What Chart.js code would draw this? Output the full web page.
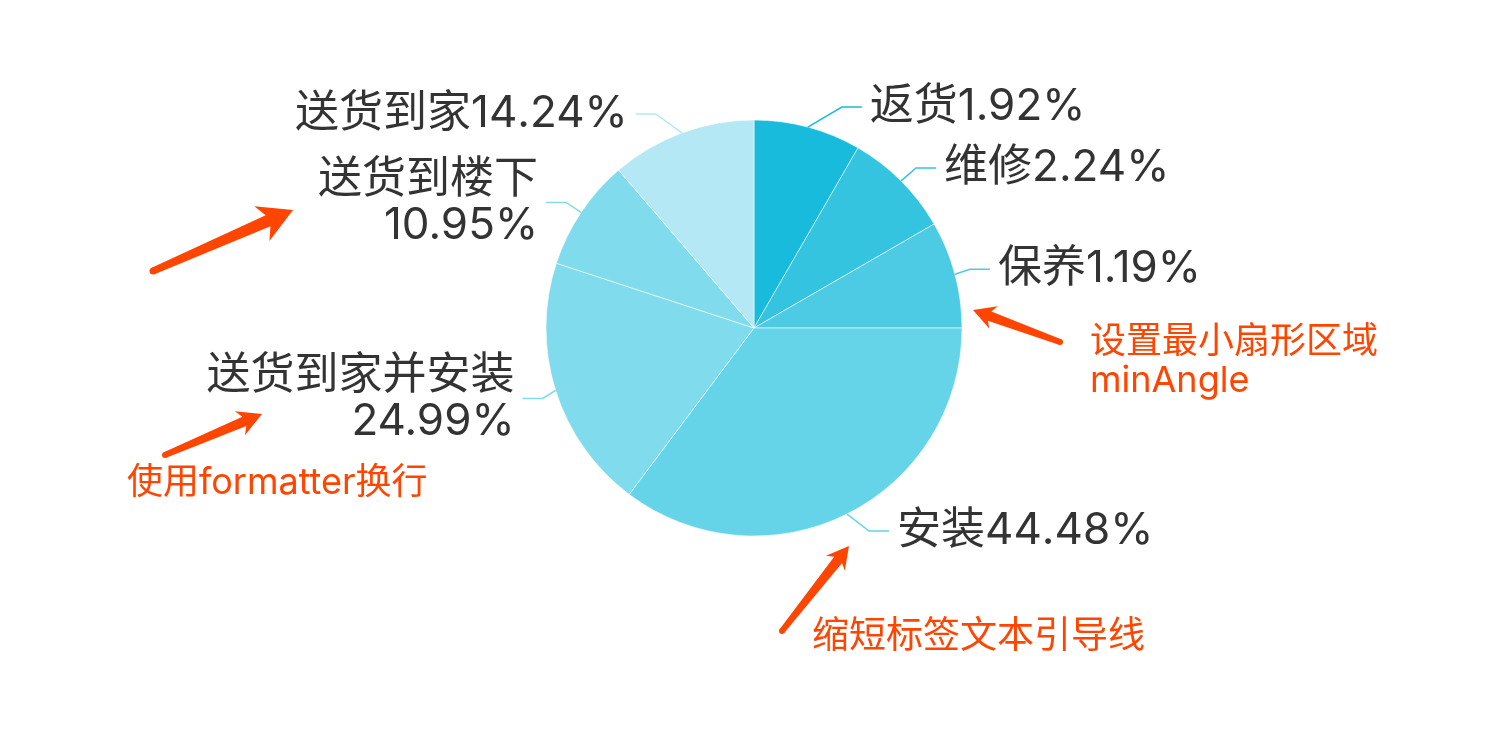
<!DOCTYPE html>
<html>
<head>
<meta charset="utf-8">
<script src="https://cdn.jsdelivr.net/npm/chart.js@4.4.1/dist/chart.umd.min.js"></script>
<style>
  html, body { margin: 0; padding: 0; background: #ffffff; }
  #wrap { width: 1486px; height: 736px; }
</style>
</head>
<body>
<div id="wrap"><canvas id="c" width="1486" height="736"></canvas></div>
<script>
// ---- data ----
const categories = ['返货', '维修', '保养', '安装', '送货到家并安装', '送货到楼下', '送货到家'];
const values = [1.92, 2.24, 1.19, 44.48, 24.99, 10.95, 14.24];
const sliceColors = ['#19bbdc', '#34c4e0', '#4ecbe4', '#66d4e8', '#80dbec', '#80dbec', '#b3e8f4'];
const minAngle = 30; // degrees, like ECharts minAngle

// minAngle layout: small slices get minAngle, the rest share the remaining angle proportionally
const total = values.reduce((a, b) => a + b, 0);
const isSmall = values.map(v => v / total * 360 < minAngle);
const smallCount = isSmall.filter(Boolean).length;
const restSum = values.reduce((a, v, i) => a + (isSmall[i] ? 0 : v), 0);
const restAngle = 360 - smallCount * minAngle;
const displayAngles = values.map((v, i) => isSmall[i] ? minAngle : v / restSum * restAngle);

// label formatter: long names wrap onto two lines
function formatLabel(name, v) {
  const pct = v.toFixed(2) + '%';
  return name.length > 4 ? [name, pct] : [name + pct];
}

// label line bend offsets (style of the label layout), in px relative to slice edge
const labelBends = [[34, -20], [15, -13], [15, -5], [22, 17], [-13, 8], [-15, -10], [-26, -19]];

const labelPlugin = {
  id: 'pieLabels',
  afterDatasetsDraw(chart) {
    const ctx = chart.ctx;
    const meta = chart.getDatasetMeta(0);
    ctx.save();
    meta.data.forEach((arc, i) => {
      const p = arc.getProps(['x', 'y', 'startAngle', 'endAngle', 'outerRadius'], true);
      const mid = (p.startAngle + p.endAngle) / 2;
      const ex = p.x + Math.cos(mid) * p.outerRadius;
      const ey = p.y + Math.sin(mid) * p.outerRadius;
      const b = labelBends[i];
      const bx = ex + b[0], by = ey + b[1];
      const right = Math.cos(mid) >= 0;
      const lx = bx + (right ? 20 : -20);
      ctx.strokeStyle = sliceColors[i];
      ctx.lineWidth = 1.5;
      ctx.beginPath();
      ctx.moveTo(ex, ey);
      ctx.lineTo(bx, by);
      ctx.lineTo(lx, by);
      ctx.stroke();
      const lines = formatLabel(categories[i], values[i]);
      ctx.font = '44px Inter, "Noto Sans CJK SC", "Noto Sans", sans-serif';
      ctx.fillStyle = '#333333';
      ctx.textBaseline = 'middle';
      ctx.textAlign = right ? 'left' : 'right';
      const lh = 46;
      const tx = lx + (right ? 8 : -8);
      const y0 = by - (lines.length - 1) * lh / 2;
      lines.forEach((t, k) => ctx.fillText(t, tx, y0 + k * lh));
    });
    ctx.restore();
  }
};

function drawArrow(ctx, tx, ty, hx, hy, headLen, headHalf, tailHalf, neckHalf) {
  const dx = hx - tx, dy = hy - ty;
  const L = Math.hypot(dx, dy);
  const ux = dx / L, uy = dy / L;
  const nx = -uy, ny = ux;
  const bx = hx - ux * headLen, by = hy - uy * headLen;
  const notch = headLen * 0.8;
  const kx = hx - ux * notch, ky = hy - uy * notch;
  ctx.beginPath();
  ctx.moveTo(tx + nx * tailHalf, ty + ny * tailHalf);
  ctx.lineTo(kx + nx * neckHalf, ky + ny * neckHalf);
  ctx.lineTo(bx + nx * headHalf, by + ny * headHalf);
  ctx.lineTo(hx, hy);
  ctx.lineTo(bx - nx * headHalf, by - ny * headHalf);
  ctx.lineTo(kx - nx * neckHalf, ky - ny * neckHalf);
  ctx.lineTo(tx - nx * tailHalf, ty - ny * tailHalf);
  ctx.closePath();
  ctx.fill();
  ctx.beginPath();
  ctx.arc(tx, ty, tailHalf, 0, Math.PI * 2);
  ctx.fill();
}

const annotationPlugin = {
  id: 'annotations',
  afterDraw(chart) {
    const ctx = chart.ctx;
    ctx.save();
    ctx.fillStyle = '#ff4500';
    drawArrow(ctx, 153, 271, 293, 210, 34, 19, 3.5, 6);
    drawArrow(ctx, 165, 455, 262, 414, 24, 13, 3, 5);
    drawArrow(ctx, 1060, 342, 973, 310, 22, 12, 3, 5);
    drawArrow(ctx, 782, 631, 849, 546, 22, 12, 3, 5);
    ctx.font = '36px Inter, "Noto Sans CJK SC", "Noto Sans", sans-serif';
    ctx.textBaseline = 'middle';
    ctx.textAlign = 'left';
    ctx.fillText('设置最小扇形区域', 1090, 342);
    ctx.fillText('minAngle', 1090, 381);
    ctx.fillText('使用formatter换行', 127, 483);
    ctx.font = '37px Inter, "Noto Sans CJK SC", "Noto Sans", sans-serif';
    ctx.fillText('缩短标签文本引导线', 812, 637);
    ctx.restore();
  }
};

new Chart(document.getElementById('c'), {
  type: 'pie',
  data: {
    labels: categories,
    datasets: [{
      data: displayAngles,
      backgroundColor: sliceColors,
      borderColor: 'rgba(255,255,255,0.55)',
      borderWidth: 1,
      hoverOffset: 0
    }]
  },
  options: {
    responsive: false,
    devicePixelRatio: 1,
    animation: false,
    events: [],
    radius: 208,
    layout: { padding: { left: 546, right: 524, top: 120, bottom: 200 } },
    plugins: {
      legend: { display: false },
      tooltip: { enabled: false },
      title: { display: false }
    }
  },
  plugins: [labelPlugin, annotationPlugin]
});
</script>
</body>
</html>
